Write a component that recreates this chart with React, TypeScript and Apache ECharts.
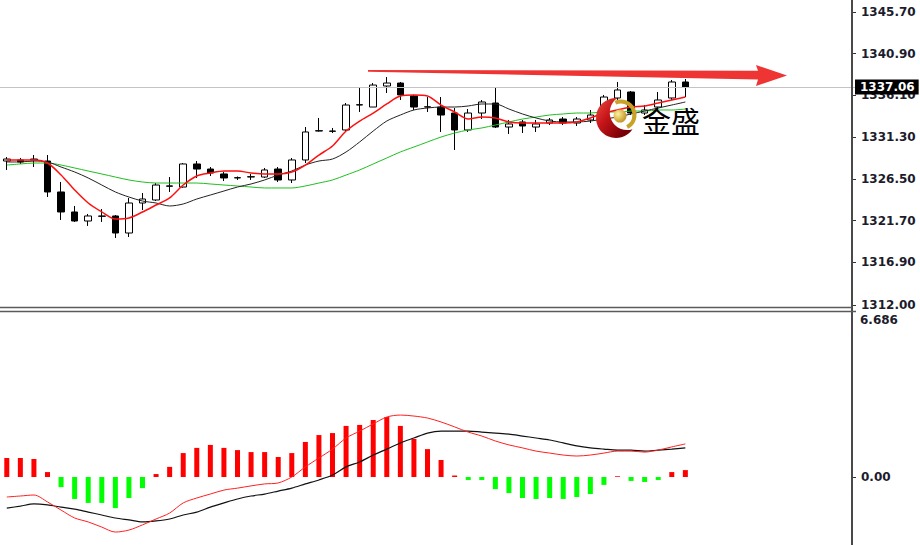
import React, { useEffect, useRef } from "react";
import * as echarts from "echarts";

// ---------- data ----------
const categories: string[] = Array.from({ length: 63 }, (_, i) => `K${i + 1}`);

const opens = [
  1328.56, 1328.68, 1328.68, 1328.56, 1325.0, 1322.7, 1321.66, 1322.2, 1322.24, 1320.28,
  1323.73, 1324.08, 1325.7, 1325.57, 1328.22, 1327.64, 1327.07, 1326.61, 1326.72, 1326.72,
  1327.64, 1326.38, 1328.68, 1332.01, 1332.01, 1332.13, 1335.0, 1334.77, 1337.19, 1337.53,
  1336.04, 1334.77, 1334.77, 1334.08, 1332.13, 1334.08, 1335.23, 1332.47, 1333.05, 1332.47,
  1332.93, 1333.39, 1332.93, 1333.28, 1334.08, 1335.81, 1336.5, 1334.08, 1334.77, 1335.81,
  1337.65,
];
const closes = [
  1328.79, 1328.45, 1328.79, 1325.0, 1322.7, 1321.66, 1322.24, 1322.24, 1320.28, 1323.73,
  1324.19, 1325.8, 1325.66, 1328.22, 1327.64, 1327.18, 1326.61, 1326.65, 1326.76, 1327.53,
  1326.38, 1328.68, 1331.9, 1332.05, 1331.98, 1335.0, 1335.04, 1337.3, 1337.53, 1336.16,
  1334.77, 1334.8, 1333.85, 1332.13, 1334.08, 1335.35, 1332.47, 1332.82, 1332.59, 1332.82,
  1333.28, 1332.93, 1333.39, 1333.85, 1335.92, 1336.73, 1334.08, 1334.43, 1335.58, 1337.65,
  1337.06,
];
const lows = [
  1327.53, 1328.22, 1327.87, 1324.42, 1321.78, 1321.55, 1321.09, 1321.55, 1319.71, 1319.82,
  1322.93, 1323.96, 1325.0, 1325.5, 1326.61, 1326.84, 1326.26, 1326.38, 1326.38, 1326.61,
  1326.15, 1326.03, 1328.33, 1331.95, 1331.78, 1331.9, 1334.2, 1334.77, 1336.38, 1335.58,
  1334.43, 1334.2, 1331.9, 1329.83, 1331.9, 1333.39, 1332.36, 1331.67, 1331.78, 1331.9,
  1332.7, 1332.7, 1332.59, 1332.93, 1333.85, 1335.58, 1333.85, 1333.85, 1334.43, 1335.58,
  1335.92,
];
const highs = [
  1329.02, 1328.91, 1329.25, 1329.25, 1326.15, 1323.39, 1322.47, 1323.04, 1322.35, 1324.31,
  1324.88, 1326.03, 1326.72, 1328.33, 1328.56, 1327.87, 1327.3, 1326.78, 1327.07, 1327.76,
  1327.87, 1328.91, 1332.47, 1333.51, 1332.36, 1335.23, 1336.96, 1337.53, 1338.22, 1337.65,
  1336.16, 1335.92, 1335.92, 1334.66, 1334.54, 1335.58, 1336.96, 1333.28, 1333.28, 1333.28,
  1333.51, 1333.62, 1333.62, 1334.43, 1336.16, 1337.65, 1336.61, 1335.0, 1336.5, 1337.88,
  1337.99,
];

const maFast = [
  1328.68, 1328.68, 1328.68, 1328.33, 1326.95, 1325.23, 1323.73, 1322.7, 1321.89, 1322.01,
  1322.7, 1323.5, 1324.31, 1325.8, 1326.84, 1327.18, 1327.41, 1327.41, 1327.18, 1327.07,
  1327.07, 1327.3, 1328.1, 1329.25, 1330.29, 1332.01, 1333.16, 1334.08, 1335.12, 1336.04,
  1336.15, 1336.04, 1335.0, 1334.2, 1333.39, 1333.62, 1333.51, 1333.05, 1332.93, 1332.93,
  1332.93, 1332.93, 1333.05, 1333.51, 1334.08, 1334.43, 1334.77, 1334.89, 1335.23, 1335.58,
  1335.92,
];
const maMid = [
  1328.45, 1328.45, 1328.56, 1328.45, 1327.87, 1327.3, 1326.61, 1325.8, 1325.0, 1324.42,
  1323.96, 1323.73, 1323.39, 1323.62, 1324.19, 1324.65, 1325.11, 1325.57, 1325.92, 1326.38,
  1326.95, 1327.41, 1328.1, 1328.56, 1328.79, 1329.6, 1330.75, 1332.01, 1333.16, 1333.85,
  1334.43, 1334.66, 1334.77, 1334.77, 1334.89, 1335.12, 1335.12, 1334.54, 1333.97, 1333.51,
  1333.16, 1333.05, 1333.05, 1333.16, 1333.39, 1333.62, 1333.97, 1334.31, 1334.66, 1335.0,
  1335.35,
];
const maSlow = [
  1328.1, 1328.22, 1328.33, 1328.33, 1328.1, 1327.76, 1327.41, 1327.07, 1326.72, 1326.38,
  1326.15, 1326.03, 1326.03, 1326.03, 1326.03, 1325.92, 1325.8, 1325.69, 1325.57, 1325.46,
  1325.46, 1325.46, 1325.69, 1326.03, 1326.38, 1326.95, 1327.53, 1328.22, 1328.91, 1329.6,
  1330.17, 1330.75, 1331.32, 1331.78, 1332.13, 1332.36, 1332.7, 1333.05, 1333.39, 1333.62,
  1333.85, 1333.97, 1334.08, 1334.08, 1334.2, 1334.2, 1334.31, 1334.31, 1334.43, 1334.43,
  1334.54,
];

const macdHist = [
  0.77, 0.77, 0.73, 0.2, -0.41, -0.89, -1.05, -1.05, -1.26, -0.85,
  -0.45, 0.12, 0.41, 0.97, 1.18, 1.3, 1.18, 1.09, 1.01, 1.01,
  0.81, 0.97, 1.42, 1.7, 1.78, 2.07, 2.11, 2.31, 2.43, 2.07,
  1.54, 1.13, 0.69, 0.06, -0.12, -0.12, -0.49, -0.65, -0.85, -0.89,
  -0.85, -0.89, -0.81, -0.69, -0.32, 0.03, -0.16, -0.2, -0.12, 0.2,
  0.28,
];
const macdLine = [
  -0.81, -0.77, -0.73, -1.01, -1.34, -1.66, -1.82, -2.03, -2.23, -2.15,
  -1.94, -1.7, -1.46, -1.05, -0.85, -0.69, -0.53, -0.45, -0.36, -0.28,
  -0.24, 0.0, 0.41, 0.77, 1.13, 1.58, 1.86, 2.15, 2.43, 2.51,
  2.47, 2.39, 2.23, 2.03, 1.82, 1.66, 1.46, 1.3, 1.18, 1.05,
  0.97, 0.89, 0.85, 0.89, 0.97, 1.05, 1.05, 1.01, 1.09, 1.22,
  1.34,
];
const macdSignal = [
  -1.26, -1.18, -1.09, -1.13, -1.22, -1.3, -1.42, -1.54, -1.66, -1.74,
  -1.82, -1.78, -1.7, -1.54, -1.42, -1.22, -1.05, -0.89, -0.77, -0.69,
  -0.57, -0.45, -0.28, -0.12, 0.08, 0.41, 0.61, 0.89, 1.13, 1.38,
  1.58, 1.78, 1.86, 1.86, 1.86, 1.82, 1.78, 1.74, 1.66, 1.58,
  1.5, 1.38, 1.26, 1.18, 1.13, 1.09, 1.09, 1.05, 1.09, 1.13,
  1.18,
];

const priceTicks = [1312.0, 1316.9, 1321.7, 1326.5, 1331.3, 1336.1, 1340.9, 1345.7];
const macdTicks = [0];
const macdMaxLabel = "6.686";
const lastPrice = 1337.06;
const brandText = "金盛";

// ---------- logo shape ----------
echarts.graphic.registerShape(
  "crescent",
  echarts.graphic.extendPath(
    "M 10 -17.32 A 20 20 0 1 0 10 17.32 A 17.5 17.5 0 0 1 10 -17.32 Z",
    {}
  )
);

const labelFont = {
  fontFamily: "DejaVu Sans",
  fontSize: 12,
  fontWeight: "bold" as const,
  color: "#1c1c2c",
};

export default function App() {
  const ref = useRef<HTMLDivElement>(null);

  useEffect(() => {
    if (!ref.current) return;
    const chart = echarts.init(ref.current, undefined, { renderer: "svg" });
    const candleData = opens.map((o, i) => [o, closes[i], lows[i], highs[i]]);

    const option: any = {
      animation: false,
      backgroundColor: "#ffffff",
      grid: [
        { left: -1.8, top: 0, width: 856.8, height: 307 },
        { left: -1.8, top: 312, width: 856.8, height: 233 },
      ],
      xAxis: [
        { type: "category", gridIndex: 0, data: categories, boundaryGap: true, show: false },
        { type: "category", gridIndex: 1, data: categories, boundaryGap: true, show: false },
      ],
      yAxis: [
        {
          type: "value",
          gridIndex: 0,
          position: "right",
          offset: -3,
          min: 1311.77,
          max: 1347.08,
          splitLine: { show: false },
          axisLine: { show: false },
          axisTick: {
            show: true,
            length: 4,
            customValues: priceTicks,
            lineStyle: { color: "#333" },
          },
          axisLabel: {
            ...labelFont,
            customValues: priceTicks,
            margin: 9,
            formatter: (v: number) => v.toFixed(2),
          },
        },
        {
          type: "value",
          gridIndex: 1,
          position: "right",
          offset: -3,
          min: -2.755,
          max: 6.686,
          splitLine: { show: false },
          axisLine: { show: false },
          axisTick: {
            show: true,
            length: 4,
            customValues: macdTicks,
            lineStyle: { color: "#333" },
          },
          axisLabel: {
            ...labelFont,
            customValues: macdTicks,
            margin: 9,
            formatter: (v: number) => v.toFixed(2),
          },
        },
      ],
      series: [
        {
          type: "candlestick",
          xAxisIndex: 0,
          yAxisIndex: 0,
          data: candleData,
          barWidth: 7,
          z: 2,
          itemStyle: {
            color: "#ffffff",
            color0: "#000000",
            borderColor: "#000000",
            borderColor0: "#000000",
            borderWidth: 1,
          },
          markLine: {
            silent: true,
            symbol: ["none", "none"],
            lineStyle: { color: "#c4c4c4", type: "solid", width: 1 },
            label: {
              show: true,
              position: "end",
              distance: 0,
              formatter: () => lastPrice.toFixed(2),
              color: "#ffffff",
              backgroundColor: "#000000",
              fontFamily: "DejaVu Sans",
              fontWeight: "bold",
              fontSize: 12,
              padding: [2, 4, 1, 5],
            },
            data: [{ yAxis: lastPrice }],
          },
        },
        {
          type: "line",
          xAxisIndex: 0,
          yAxisIndex: 0,
          data: maSlow,
          showSymbol: false,
          smooth: 0.3,
          z: 3,
          lineStyle: { color: "#1fbf1f", width: 1 },
        },
        {
          type: "line",
          xAxisIndex: 0,
          yAxisIndex: 0,
          data: maMid,
          showSymbol: false,
          smooth: 0.3,
          z: 3,
          lineStyle: { color: "#222222", width: 1 },
        },
        {
          type: "line",
          xAxisIndex: 0,
          yAxisIndex: 0,
          data: maFast,
          showSymbol: false,
          smooth: 0.3,
          z: 4,
          lineStyle: { color: "#ff1010", width: 1.5 },
        },
        {
          type: "bar",
          xAxisIndex: 1,
          yAxisIndex: 1,
          data: macdHist,
          barWidth: 5,
          itemStyle: {
            color: (p: any) => (p.value >= 0 ? "#ff0000" : "#00ff00"),
          },
        },
        {
          type: "line",
          xAxisIndex: 1,
          yAxisIndex: 1,
          data: macdSignal,
          showSymbol: false,
          smooth: 0.3,
          z: 3,
          lineStyle: { color: "#111111", width: 1.2 },
        },
        {
          type: "line",
          xAxisIndex: 1,
          yAxisIndex: 1,
          data: macdLine,
          showSymbol: false,
          smooth: 0.3,
          z: 4,
          lineStyle: { color: "#ff2020", width: 1 },
        },
      ],
      graphic: [
        {
          type: "line",
          shape: { x1: 852, y1: 0, x2: 852, y2: 545 },
          style: { stroke: "#4a4a4a", lineWidth: 2 },
          z: 50,
        },
        {
          type: "line",
          shape: { x1: 0, y1: 307.5, x2: 852, y2: 307.5 },
          style: { stroke: "#5a5a5a", lineWidth: 1.5 },
          z: 50,
        },
        {
          type: "line",
          shape: { x1: 0, y1: 311.5, x2: 856, y2: 311.5 },
          style: { stroke: "#5a5a5a", lineWidth: 1.5 },
          z: 50,
        },
        {
          type: "text",
          x: 860,
          y: 320,
          z: 50,
          style: {
            text: macdMaxLabel,
            fill: "#1c1c2c",
            fontFamily: "DejaVu Sans",
            fontSize: 12,
            fontWeight: "bold",
            verticalAlign: "middle",
          },
        },
        {
          type: "polygon",
          z: 60,
          shape: {
            points: [
              [368, 70],
              [758, 70.8],
              [756, 65],
              [787, 75.5],
              [756, 86],
              [758, 79.5],
              [368, 71.8],
            ],
          },
          style: { fill: "#ef3434" },
        },
        {
          type: "crescent",
          x: 616,
          y: 118,
          rotation: 0.45,
          z: 70,
          style: {
            fill: {
              type: "linear",
              x: 0,
              y: 0,
              x2: 0.4,
              y2: 1,
              colorStops: [
                { offset: 0, color: "#e84a40" },
                { offset: 0.45, color: "#c8161a" },
                { offset: 1, color: "#7a0006" },
              ],
            },
          },
        },
        {
          type: "arc",
          z: 71,
          shape: { cx: 621, cy: 115, r: 13.5, startAngle: -2.0, endAngle: 1.1, clockwise: true },
          style: { stroke: "#c9a227", lineWidth: 4, fill: null },
        },
        {
          type: "circle",
          z: 72,
          shape: { cx: 620, cy: 116, r: 6.5 },
          style: {
            fill: {
              type: "radial",
              x: 0.35,
              y: 0.35,
              r: 0.8,
              colorStops: [
                { offset: 0, color: "#fff0a0" },
                { offset: 1, color: "#b8860b" },
              ],
            },
          },
        },
        {
          type: "text",
          x: 642,
          y: 120,
          z: 72,
          style: {
            text: brandText,
            fill: "#000000",
            fontFamily: "Noto Sans CJK SC",
            fontSize: 29,
            verticalAlign: "middle",
          },
        },
      ],
    };

    chart.setOption(option);
    return () => chart.dispose();
  }, []);

  return (
    <div
      ref={ref}
      style={{ position: "fixed", left: 0, top: 0, width: 920, height: 545, background: "#fff" }}
    />
  );
}
